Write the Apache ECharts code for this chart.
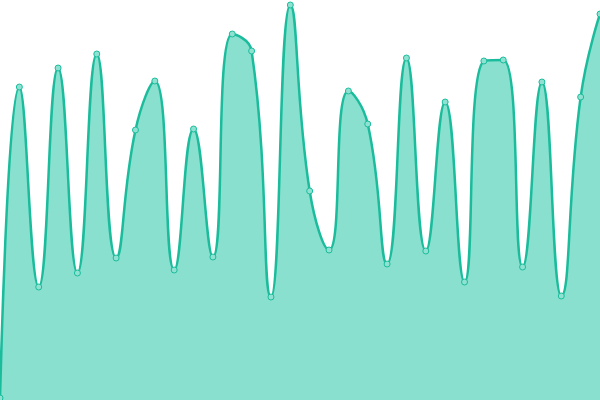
<!DOCTYPE html>
<html><head><meta charset="utf-8">
<script src="https://cdn.jsdelivr.net/npm/echarts@6/dist/echarts.min.js"></script>
<style>html,body{margin:0;padding:0;background:#fff}#c{width:600px;height:400px}</style>
</head><body><div id="c"></div>
<script>
var categories = [];
for (var i = 0; i < 32; i++) categories.push('P' + (i + 1));
var values = [2, 313, 113, 332, 127, 346, 142, 270, 319, 130, 271, 143, 366, 349, 103, 395, 209, 150, 309, 276, 136, 342, 149, 298, 118, 339, 340, 133, 318, 104, 303, 386];
var chart = echarts.init(document.getElementById('c'));
chart.setOption({
  animation: false,
  grid: {left: 0, right: 0, top: 0, bottom: 0},
  xAxis: {type: 'category', data: categories, boundaryGap: false, show: false},
  yAxis: {type: 'value', min: 0, max: 400, show: false},
  series: [{
    type: 'line',
    data: values,
    smooth: true,
    symbol: 'circle',
    symbolSize: 6,
    lineStyle: {color: '#1abc9c', width: 2.5},
    itemStyle: {color: '#8fe2d1', borderColor: '#1abc9c', borderWidth: 1},
    areaStyle: {color: '#8ae0cf', opacity: 1}
  }]
});
</script></body></html>
